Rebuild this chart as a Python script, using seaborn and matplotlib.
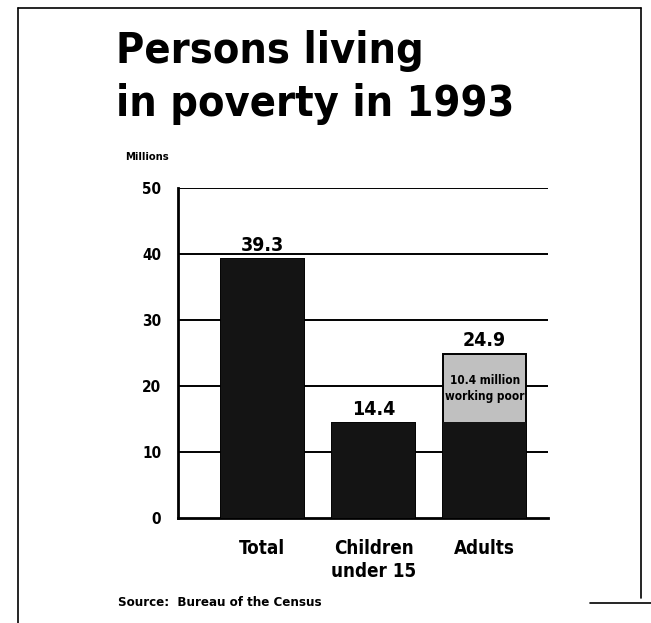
import matplotlib
matplotlib.use("Agg")
import matplotlib.pyplot as plt
import seaborn as sns
import pandas as pd
from matplotlib.lines import Line2D

categories = ["Total", "Children\nunder 15", "Adults"]
totals = [39.3, 14.4, 24.9]
working_poor = [0.0, 0.0, 10.4]
value_labels = ["39.3", "14.4", "24.9"]
y_ticks = [0, 10, 20, 30, 40, 50]

sns.set_theme(style="white")
plt.rcParams['font.family'] = ['DejaVu Sans']
plt.rcParams['font.stretch'] = 'condensed'
plt.rcParams['text.color'] = 'black'
plt.rcParams['xtick.color'] = 'black'
plt.rcParams['ytick.color'] = 'black'

base = [t - w for t, w in zip(totals, working_poor)]
df = pd.DataFrame({"cat": categories, "total": totals, "base": base})

fig = plt.figure(figsize=(6.51, 6.23), dpi=100)
ax = fig.add_axes([0.2734, 0.1685, 0.5684, 0.5297])

dark = "#141414"
light = "#c0c0c0"
sns.barplot(data=df, x="cat", y="total", hue="cat", palette=[dark, dark, light],
            width=0.75, ax=ax, legend=False, edgecolor="black", linewidth=1.4, zorder=3)
sns.barplot(data=df, x="cat", y="base", color=dark, width=0.75, ax=ax,
            edgecolor=dark, linewidth=0, zorder=4)

ax.set_xlim(-0.76, 2.57)
ax.set_ylim(0, 50)
ax.set_yticks(y_ticks)
ax.set_yticklabels([str(v) for v in y_ticks], fontweight="bold", fontsize=11)
for v in y_ticks[1:]:
    ax.axhline(v, color="black", lw=1.4, zorder=1)
ax.tick_params(axis="y", length=0, pad=12)
ax.tick_params(axis="x", length=0, pad=15)
ax.set_xticks(range(3))
ax.set_xticklabels(categories, fontweight="bold", fontsize=13.5, va="top", linespacing=1.3)
ax.set_xlabel("")
ax.set_ylabel("")
for s in ["top", "right"]:
    ax.spines[s].set_visible(False)
for s in ["left", "bottom"]:
    ax.spines[s].set_color("black")
    ax.spines[s].set_linewidth(2)

for i, (t, lab) in enumerate(zip(totals, value_labels)):
    ax.text(i, t + 0.6, lab, ha="center", va="bottom", fontsize=14, fontweight="bold")

ax.text(2, base[2] + working_poor[2] / 2, "10.4 million\nworking poor", ha="center",
        va="center", fontsize=8.5, fontweight="bold", linespacing=1.3, zorder=5)

fig.text(116 / 651, 1 - 30 / 623, "Persons living\nin poverty in 1993", ha="left", va="top",
         fontsize=31, fontweight="bold", linespacing=1.32)
fig.text(125 / 651, 1 - 157 / 623, "Millions", ha="left", va="center", fontsize=8, fontweight="bold")
fig.text(118 / 651, 1 - 603 / 623, "Source:  Bureau of the Census", ha="left", va="center",
         fontsize=9.5, fontweight="bold")

# frame
W, H = 651, 623
def L(x0, y0, x1, y1, lw=1.2):
    fig.add_artist(Line2D([x0 / W, x1 / W], [1 - y0 / H, 1 - y1 / H], color="black", lw=lw))
L(18, 8, 641, 8)
L(18, 8, 18, 623)
L(641, 8, 641, 598)
L(590, 603, 651, 603)

fig.savefig("out.png", dpi=100)
